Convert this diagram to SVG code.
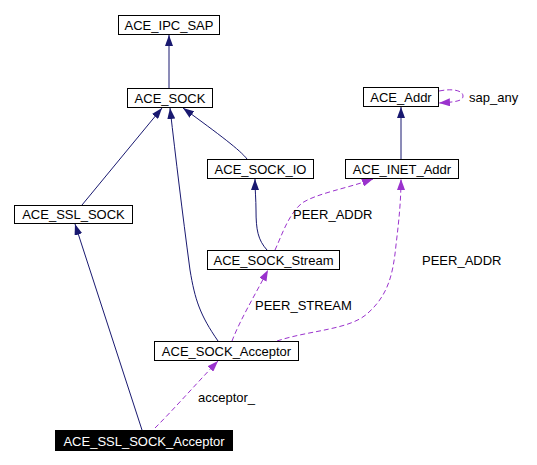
<svg xmlns="http://www.w3.org/2000/svg" width="537" height="465" viewBox="0 0 537 465">
<style>
.box{fill:#fff;stroke:#000;stroke-width:1}
.sel{fill:#000;stroke:#000;stroke-width:1}
text{font-family:"Liberation Sans",Arial,sans-serif;font-size:13px;fill:#000}
.nt{text-anchor:middle}
.wt{fill:#fff}
.inh{fill:none;stroke:#191970;stroke-width:1}
.use{fill:none;stroke:#9a32cd;stroke-width:1;stroke-dasharray:5,3}
</style>
<defs>
<marker id="an" viewBox="0 0 11 8" refX="11" refY="4" markerWidth="11" markerHeight="8" markerUnits="userSpaceOnUse" orient="auto"><path d="M0,0 L11,4 L0,8 z" fill="#191970"/></marker>
<marker id="ap" viewBox="0 0 11 8" refX="11" refY="4" markerWidth="11" markerHeight="8" markerUnits="userSpaceOnUse" orient="auto"><path d="M0,0 L11,4 L0,8 z" fill="#9a32cd"/></marker>
</defs>
<rect width="537" height="465" fill="#fff"/>
<g id="connectors">
<path class="inh" d="M169,88 L169,35" marker-end="url(#an)"/>
<path class="inh" d="M82,205 L162,108" marker-end="url(#an)"/>
<path class="inh" d="M218,341 C200,315 195,300 190,270 C182,210 176,160 170,108" marker-end="url(#an)"/>
<path class="inh" d="M247,159 C240,150 220,135 183,108" marker-end="url(#an)"/>
<path class="inh" d="M401,159 L401,107" marker-end="url(#an)"/>
<path class="inh" d="M267,250 C258,240 256,230 256,210 C256,200 255,190 255,179" marker-end="url(#an)"/>
<path class="inh" d="M142,430 L75,224" marker-end="url(#an)"/>
<path class="use" d="M275,250 C282,235 288,215 302,203 C318,193 345,189 373,179" marker-end="url(#ap)"/>
<path class="use" d="M232,341 C240,320 255,295 268,270" marker-end="url(#ap)"/>
<path class="use" d="M277,341 C310,330 350,330 368,313 C388,295 393,275 396,245 C399,220 401,200 401,179" marker-end="url(#ap)"/>
<path class="use" d="M155,428 C175,408 195,385 218,361" marker-end="url(#ap)"/>
<path class="use" d="M439,91 C454,88 463,91 463,96 C463,101 456,102 439,103" marker-end="url(#ap)"/>
</g>
<g id="ACE_IPC_SAP"><rect class="box" x="118.5" y="15.5" width="101" height="19"/><text class="nt" x="169" y="29.5">ACE_IPC_SAP</text></g>
<g id="ACE_SOCK"><rect class="box" x="127.5" y="88.5" width="85" height="19"/><text class="nt" x="170" y="102.5">ACE_SOCK</text></g>
<g id="ACE_Addr"><rect class="box" x="363.5" y="87.5" width="75" height="19"/><text class="nt" x="401" y="101.5">ACE_Addr</text></g>
<g id="ACE_INET_Addr"><rect class="box" x="345.5" y="159.5" width="113" height="19"/><text class="nt" x="402" y="173.5">ACE_INET_Addr</text></g>
<g id="ACE_SOCK_IO"><rect class="box" x="207.5" y="159.5" width="106" height="19"/><text class="nt" x="260.5" y="173.5">ACE_SOCK_IO</text></g>
<g id="ACE_SSL_SOCK"><rect class="box" x="14.5" y="205.5" width="118" height="18"/><text class="nt" x="73.5" y="219">ACE_SSL_SOCK</text></g>
<g id="ACE_SOCK_Stream"><rect class="box" x="207.5" y="250.5" width="132" height="19"/><text class="nt" x="273.5" y="264.5">ACE_SOCK_Stream</text></g>
<g id="ACE_SOCK_Acceptor"><rect class="box" x="154.5" y="341.5" width="144" height="19"/><text class="nt" x="226.5" y="355.5">ACE_SOCK_Acceptor</text></g>
<g id="ACE_SSL_SOCK_Acceptor"><rect class="sel" x="55.5" y="430.5" width="177" height="20"/><text class="nt wt" x="144" y="445.5">ACE_SSL_SOCK_Acceptor</text></g>
<g id="labels">
<text x="469" y="102">sap_any</text>
<text x="293" y="219">PEER_ADDR</text>
<text x="422" y="265">PEER_ADDR</text>
<text x="255" y="310">PEER_STREAM</text>
<text x="198" y="402">acceptor_</text>
</g>
</svg>
